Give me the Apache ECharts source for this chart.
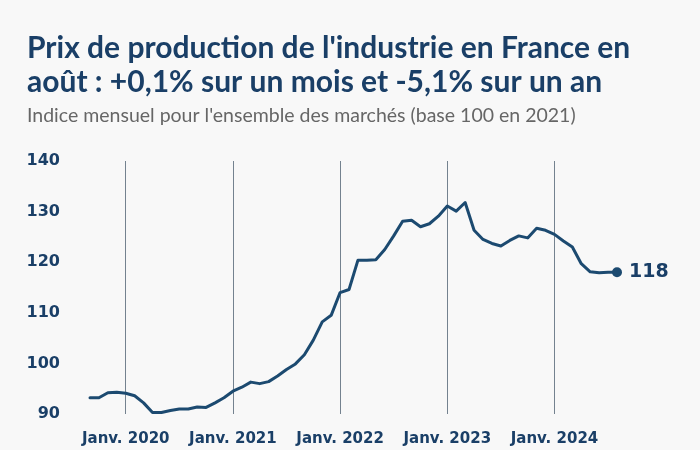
<!DOCTYPE html>
<html>
<head>
<meta charset="utf-8">
<script src="https://cdn.jsdelivr.net/npm/echarts@6/dist/echarts.min.js"></script>
<style>
html,body{margin:0;padding:0;background:#f8f8f8;}
#chart{width:700px;height:450px;}
</style>
</head>
<body>
<div id="chart"></div>
<script>
const titleText = "Prix de production de l'industrie en France en\naoût : +0,1% sur un mois et -5,1% sur un an";
const subtitleText = "Indice mensuel pour l'ensemble des marchés (base 100 en 2021)";
const months = [
  "2019-09","2019-10","2019-11","2019-12",
  "2020-01","2020-02","2020-03","2020-04","2020-05","2020-06","2020-07","2020-08","2020-09","2020-10","2020-11","2020-12",
  "2021-01","2021-02","2021-03","2021-04","2021-05","2021-06","2021-07","2021-08","2021-09","2021-10","2021-11","2021-12",
  "2022-01","2022-02","2022-03","2022-04","2022-05","2022-06","2022-07","2022-08","2022-09","2022-10","2022-11","2022-12",
  "2023-01","2023-02","2023-03","2023-04","2023-05","2023-06","2023-07","2023-08","2023-09","2023-10","2023-11","2023-12",
  "2024-01","2024-02","2024-03","2024-04","2024-05","2024-06","2024-07","2024-08"
];
const indexValues = [
  93.2, 93.2, 94.2, 94.3,
  94.1, 93.6, 92.2, 90.3, 90.3, 90.7, 91.0, 91.0, 91.4, 91.3, 92.2, 93.2,
  94.5, 95.3, 96.3, 96.0, 96.4, 97.5, 98.8, 99.9, 101.7, 104.6, 108.2, 109.5,
  114.0, 114.6, 120.4, 120.4, 120.5, 122.5, 125.2, 128.1, 128.3, 127.0, 127.6, 129.1,
  131.1, 130.1, 131.8, 126.3, 124.5, 123.7, 123.2, 124.3, 125.2, 124.8, 126.7, 126.3,
  125.5, 124.2, 123.0, 119.7, 118.1, 117.9, 118.0, 118.0
];
const endLabelText = "118";
const yTicks = [90, 100, 110, 120, 130, 140];
const xLabelPrefix = "Janv. ";

const navy = '#1a3f67';
const lineColor = '#1c4a70';
const isJan = (i) => months[i].slice(5) === '01';

const seriesData = indexValues.map((v, i) => {
  if (i === indexValues.length - 1) {
    return {
      value: v,
      symbol: 'circle',
      symbolSize: 10,
      label: {
        show: true, position: 'right', distance: 7,
        formatter: endLabelText,
        fontFamily: 'DejaVu Sans', fontWeight: 'bold', fontSize: 19, color: navy
      }
    };
  }
  return { value: v };
});

const chart = echarts.init(document.getElementById('chart'), null, { renderer: 'canvas' });
chart.setOption({
  backgroundColor: '#f8f8f8',
  animation: false,
  title: [
    {
      text: titleText, left: 27, top: 31, padding: 0,
      textStyle: { fontFamily: 'Lato', fontWeight: 'bold', fontSize: 30, lineHeight: 34, color: navy }
    },
    {
      text: subtitleText, left: 27, top: 105, padding: 0,
      textStyle: { fontFamily: 'Lato', fontWeight: 'normal', fontSize: 19.5, lineHeight: 22, color: '#666666' }
    }
  ],
  grid: { left: 90, right: 83, top: 161, bottom: 36, containLabel: false },
  xAxis: {
    type: 'category',
    data: months,
    boundaryGap: false,
    axisLine: { show: false },
    axisTick: { show: false },
    axisLabel: {
      interval: (i) => isJan(i),
      formatter: (val) => xLabelPrefix + val.slice(0, 4),
      fontFamily: 'DejaVu Sans', fontWeight: 'bold', fontSize: 15, color: navy,
      margin: 18
    },
    splitLine: {
      show: true,
      interval: (i) => isJan(i),
      lineStyle: { color: '#74828f', width: 1 }
    }
  },
  yAxis: {
    type: 'value',
    min: yTicks[0], max: yTicks[yTicks.length - 1], interval: 10,
    axisLine: { show: false },
    axisTick: { show: false },
    splitLine: { show: false },
    axisLabel: {
      fontFamily: 'DejaVu Sans', fontWeight: 'bold', fontSize: 16, color: navy,
      margin: 30
    }
  },
  series: [{
    type: 'line',
    data: seriesData,
    symbol: 'none',
    showSymbol: true,
    showAllSymbol: true,
    itemStyle: { color: lineColor },
    lineStyle: { color: lineColor, width: 3, join: 'round', cap: 'round' },
    smooth: false
  }]
});
</script>
</body>
</html>
